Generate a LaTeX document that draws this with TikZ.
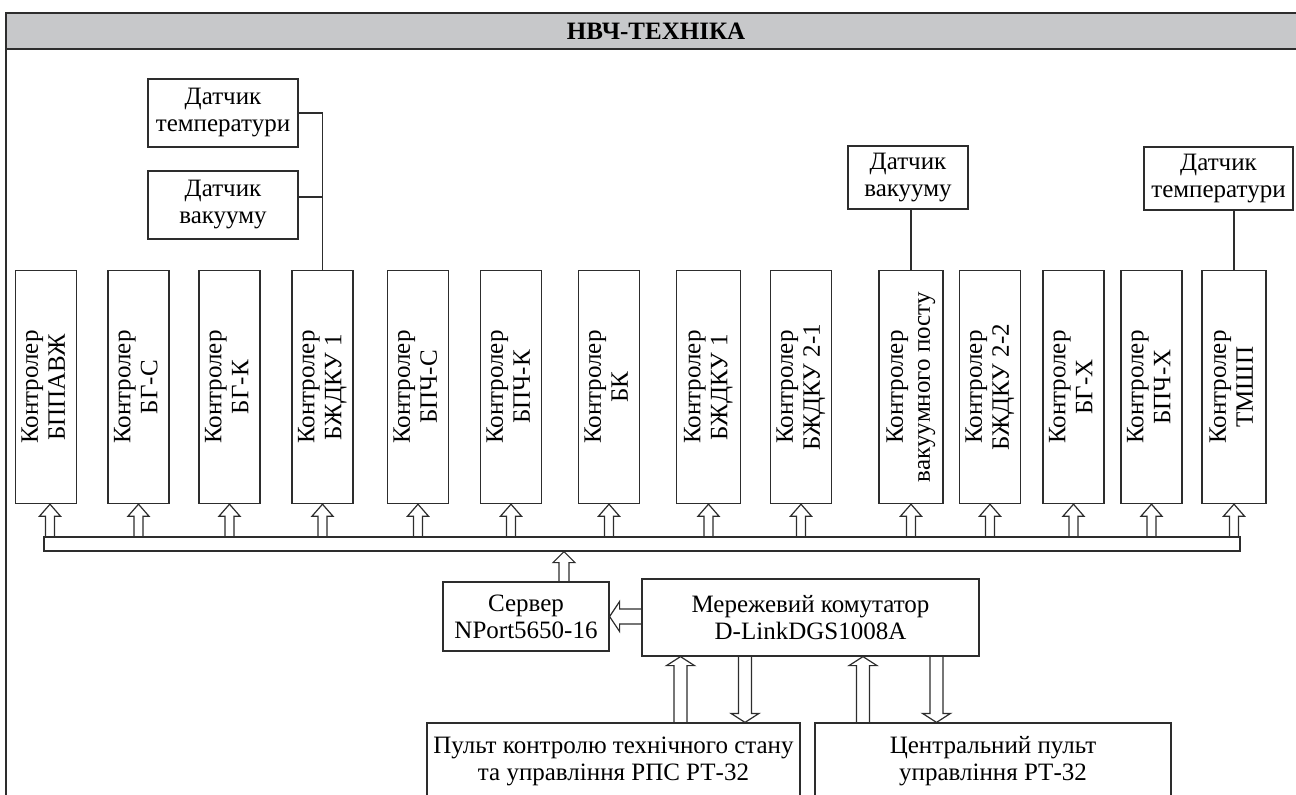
\documentclass[tikz,border=0pt]{standalone}
\usepackage{fontspec}
\setmainfont{Liberation Serif}
\usepackage{graphicx}
\usetikzlibrary{calc}
\definecolor{hdrgray}{RGB}{199,200,202}
\definecolor{linegray}{RGB}{45,45,45}
\newcommand{\vlabel}[2]{\rotatebox{90}{\begin{tabular}{@{}c@{}}#1\\#2\end{tabular}}}
\begin{document}
\begin{tikzpicture}[x=0.5pt,y=-0.5pt,
    font=\fontsize{12.5}{13.5}\selectfont,
    box/.style={draw=linegray, line width=0.6pt, align=center, inner sep=0pt},
    ctrl/.style={box, anchor=north, minimum width=30.5pt, minimum height=116.5pt},
    wire/.style={draw=linegray, line width=0.6pt},
    blockarrow/.style n args={3}{draw=linegray, line width=0.6pt, to path={
      ($(\tikztotarget)!#3!(\tikztostart)$) coordinate (hb)
      ($(\tikztostart)!#1!90:(\tikztotarget)$) -- ($(hb)!#1!-90:(\tikztostart)$)
      -- ($(hb)!#2!-90:(\tikztostart)$) -- (\tikztotarget)
      -- ($(hb)!#2!90:(\tikztostart)$) -- ($(hb)!#1!90:(\tikztostart)$)
      -- ($(\tikztostart)!#1!-90:(\tikztotarget)$)}},
    ctrlarrow/.style={blockarrow={2.25pt}{5.25pt}{6pt}},
    busarrow/.style={blockarrow={2.5pt}{5.5pt}{5.5pt}},
    hzarrow/.style={blockarrow={3.75pt}{7.5pt}{5pt}},
    pultarrow/.style={blockarrow={3.25pt}{7pt}{4.5pt}}]
  \useasboundingbox (0,0) rectangle (1296,794);
  \clip (0,0) rectangle (1296,794);

  % frame and header
  \fill[hdrgray] (6,13) rectangle (1300,49);
  \draw[linegray, line width=1pt] (6,800) -- (6,13) -- (1300,13);
  \draw[linegray, line width=0.8pt] (6,49) -- (1300,49);
  \node[font=\fontsize{12.5}{13.5}\selectfont\bfseries] (title) at (656,31) {НВЧ-ТЕХНІКА};

  % sensors
  \node[box, minimum width=75pt, minimum height=34pt] (sT1) at (223,113) {Датчик\\температури};
  \node[box, minimum width=75pt, minimum height=34pt] (sV1) at (223,205) {Датчик\\вакууму};
  \node[box, minimum width=60pt, minimum height=31.5pt] (sV2) at (908,177.5) {Датчик\\вакууму};
  \node[box, minimum width=74.5pt, minimum height=31.5pt] (sT2) at (1218.5,178.5) {Датчик\\температури};

  % controllers
  \node[ctrl] (c1) at (46,270) {\vlabel{Контролер}{БППАВЖ}};
  \node[ctrl] (c2) at (138.5,270) {\vlabel{Контролер}{БГ-С}};
  \node[ctrl] (c3) at (229.5,270) {\vlabel{Контролер}{БГ-К}};
  \node[ctrl] (c4) at (322.5,270) {\vlabel{Контролер}{БЖДКУ 1}};
  \node[ctrl] (c5) at (418,270) {\vlabel{Контролер}{БПЧ-С}};
  \node[ctrl] (c6) at (511,270) {\vlabel{Контролер}{БПЧ-К}};
  \node[ctrl] (c7) at (609,270) {\vlabel{Контролер}{БК}};
  \node[ctrl, minimum width=32pt] (c8) at (708.5,270) {\vlabel{Контролер}{БЖДКУ 1}};
  \node[ctrl] (c9) at (801,270) {\vlabel{Контролер}{БЖДКУ 2-1}};
  \node[ctrl, minimum width=32pt] (c10) at (911,270) {\vlabel{Контролер}{вакуумного посту}};
  \node[ctrl] (c11) at (990,270) {\vlabel{Контролер}{БЖДКУ 2-2}};
  \node[ctrl] (c12) at (1073.5,270) {\vlabel{Контролер}{БГ-Х}};
  \node[ctrl] (c13) at (1151.5,270) {\vlabel{Контролер}{БПЧ-Х}};
  \node[ctrl, minimum width=32pt] (c14) at (1234,270) {\vlabel{Контролер}{ТМШП}};

  % bus, server, switch, consoles
  \node[box, minimum width=598pt, minimum height=7pt] (bus) at (642,544) {};
  \node[box, minimum width=83pt, minimum height=34.5pt] (srv) at (526,616.5) {Сервер\\NPort5650-16};
  \node[box, minimum width=168.5pt, minimum height=38.5pt] (sw) at (810.5,617.5) {Мережевий комутатор\\D-LinkDGS1008A};
  \node[box, minimum width=186.5pt, minimum height=38pt] (p1) at (613.5,761) {Пульт контролю технічного стану\\та управління РПС РТ-32};
  \node[box, minimum width=178pt, minimum height=38pt] (p2) at (993,761) {Центральний пульт\\управління РТ-32};

  \coordinate (j2) at ($(sV1.east)+(0,-8)$);
  \coordinate (k1) at (50,0);
  \coordinate (a1) at (564,0);
  \coordinate (u1) at (680.5,0);
  \coordinate (d1) at (745,0);
  \coordinate (u2) at (863,0);
  \coordinate (d2) at (936.5,0);

  % sensor wires
  \draw[wire] (sT1.east) -| (c4.north);
  \draw[wire] (j2) -- (j2 -| c4.north);
  \draw[wire] (c10.north) -- (c10.north |- sV2.south);
  \draw[wire] (c14.north) -- (c14.north |- sT2.south);

  % bus to controllers
  \draw[ctrlarrow] (bus.north -| k1) to (c1.south -| k1);
  \draw[ctrlarrow] (bus.north -| c2.south) to (c2.south);
  \draw[ctrlarrow] (bus.north -| c3.south) to (c3.south);
  \draw[ctrlarrow] (bus.north -| c4.south) to (c4.south);
  \draw[ctrlarrow] (bus.north -| c5.south) to (c5.south);
  \draw[ctrlarrow] (bus.north -| c6.south) to (c6.south);
  \draw[ctrlarrow] (bus.north -| c7.south) to (c7.south);
  \draw[ctrlarrow] (bus.north -| c8.south) to (c8.south);
  \draw[ctrlarrow] (bus.north -| c9.south) to (c9.south);
  \draw[ctrlarrow] (bus.north -| c10.south) to (c10.south);
  \draw[ctrlarrow] (bus.north -| c11.south) to (c11.south);
  \draw[ctrlarrow] (bus.north -| c12.south) to (c12.south);
  \draw[ctrlarrow] (bus.north -| c13.south) to (c13.south);
  \draw[ctrlarrow] (bus.north -| c14.south) to (c14.south);

  % server, switch, consoles
  \draw[busarrow] (srv.north -| a1) to (bus.south -| a1);
  \draw[hzarrow] (sw.west |- srv.east) to (srv.east);
  \draw[pultarrow] (p1.north -| u1) to (sw.south -| u1);
  \draw[pultarrow] (sw.south -| d1) to (p1.north -| d1);
  \draw[pultarrow] (p2.north -| u2) to (sw.south -| u2);
  \draw[pultarrow] (sw.south -| d2) to (p2.north -| d2);
\end{tikzpicture}
\end{document}
